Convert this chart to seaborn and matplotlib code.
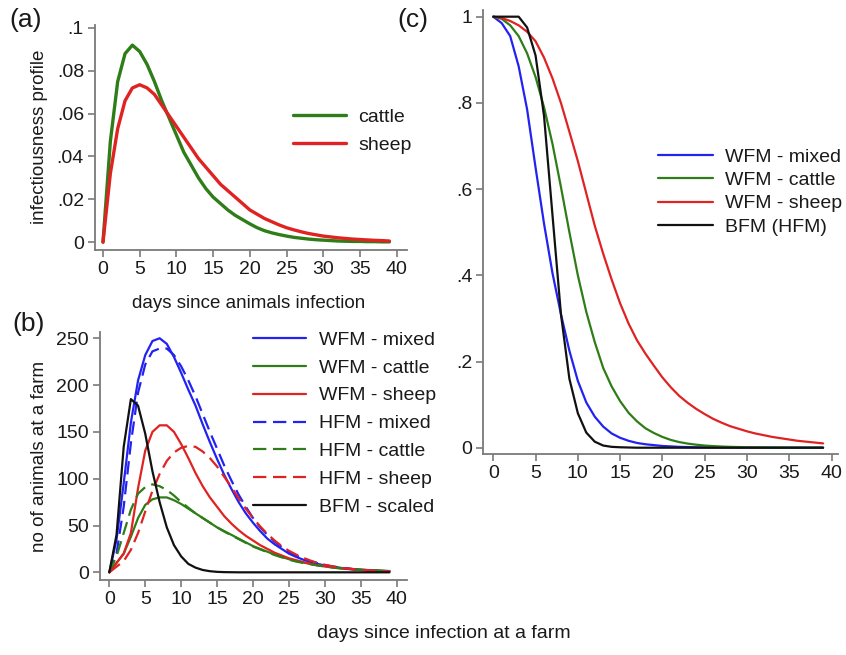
import matplotlib
matplotlib.use("Agg")
import matplotlib.pyplot as plt
import seaborn as sns

sns.set_style("white")
plt.rcParams["font.family"] = ["Liberation Sans", "DejaVu Sans"]

# ---------- data ----------
days = list(range(40))

# (a) infectiousness profile
inf_cattle = [0, .047, .075, .088, .092, .089, .083, .075, .066, .058,
              .050, .042, .036, .030, .025, .021, .018, .015, .0125, .0105,
              .0085, .0067, .0053, .0043, .0035, .0028, .0022, .0018, .0014, .0011,
              .0009, .0007, .0005, .0004, .0003, .0003, .0002, .0002, .0001, .0001]
inf_sheep = [0, .032, .053, .066, .072, .0735, .072, .069, .064, .059,
             .054, .049, .044, .039, .035, .031, .027, .024, .021, .018,
             .015, .013, .011, .0095, .008, .0067, .0057, .0048, .004, .0034,
             .0028, .0024, .002, .0017, .0014, .0012, .001, .0008, .0007, .0005]

# (b) number of infected animals at a farm
wfm_mixed = [0, 35, 95, 160, 205, 232, 247, 250, 244, 230,
             213, 195, 178, 158, 139, 121, 104, 89, 75, 63,
             53, 44, 36, 30, 25, 20, 16.5, 13.5, 11, 9,
             7.3, 6, 4.9, 4, 3.3, 2.7, 2.2, 1.8, 1.5, 1.2]
wfm_cattle = [0, 10, 20, 38, 58, 72, 78, 80, 80, 77,
              73, 68, 63, 58, 53, 48, 44, 40, 36, 32,
              28, 25, 22, 19, 16.5, 14, 12, 10.5, 9, 7.7,
              6.6, 5.6, 4.8, 4, 3.4, 2.9, 2.4, 2, 1.7, 1.4]
wfm_sheep = [0, 10, 20, 42, 90, 130, 150, 157, 157, 150,
             137, 122, 106, 92, 80, 70, 60, 52, 45, 39,
             34, 29, 25, 21, 18, 15, 13, 11, 9, 7.5,
             6.3, 5.2, 4.3, 3.6, 3, 2.5, 2, 1.7, 1.4, 1.1]
hfm_mixed = [0, 20, 70, 138, 192, 222, 236, 239, 239, 232,
             220, 205, 188, 169, 150, 132, 114, 98, 83, 70,
             58, 48, 40, 33, 27, 22, 18, 14.5, 12, 9.7,
             7.9, 6.4, 5.2, 4.2, 3.4, 2.8, 2.3, 1.8, 1.5, 1.2]
hfm_cattle = [0, 17, 42, 67, 84, 91, 94, 92, 88, 82,
              75, 69, 63, 58, 53, 48, 43.5, 39.5, 35.5, 31.5,
              27.5, 24.5, 21.5, 18.5, 16, 13.5, 11.5, 10, 8.6, 7.3,
              6.2, 5.3, 4.5, 3.8, 3.2, 2.7, 2.2, 1.9, 1.6, 1.3]
hfm_sheep = [0, 6, 12, 24, 42, 65, 87, 105, 119, 128,
             133, 135, 134, 129, 122, 113, 102, 91, 79, 68,
             58, 49, 41, 34, 28, 23, 19, 15.5, 12.5, 10,
             8, 6.5, 5.2, 4.2, 3.4, 2.7, 2.2, 1.8, 1.4, 1.1]
bfm_scaled = [0, 40, 134, 185, 178, 148, 108, 75, 48, 29,
              17, 9, 5, 2.5, 1.2, 0.5, 0.2, 0.1, 0, 0,
              0, 0, 0, 0, 0, 0, 0, 0, 0, 0,
              0, 0, 0, 0, 0, 0, 0, 0, 0, 0]

# (c) survival curves
surv_mixed = [1, .985, .955, .885, .785, .65, .52, .405, .31, .225,
              .155, .105, .072, .049, .033, .023, .016, .011, .008, .006,
              .004, .003, .002, .0015, .001, .0008, .0005, .0004, .0003, .0002,
              .0002, .0001, .0001, .0001, 0, 0, 0, 0, 0, 0]
surv_cattle = [1, .995, .98, .955, .915, .86, .79, .705, .605, .5,
               .4, .315, .245, .185, .142, .108, .081, .061, .045, .034,
               .025, .018, .013, .0095, .007, .005, .0037, .0027, .002, .0015,
               .001, .0008, .0006, .0004, .0003, .0002, .0002, .0001, .0001, .0001]
surv_sheep = [1, .997, .99, .98, .965, .943, .905, .857, .80, .733,
              .665, .59, .515, .45, .39, .335, .288, .249, .218, .19,
              .163, .14, .12, .104, .09, .078, .067, .058, .05, .044,
              .038, .033, .029, .025, .022, .019, .016, .014, .012, .01]
surv_bfm = [1, 1, 1, 1, .975, .91, .77, .54, .31, .16,
            .08, .035, .014, .005, .002, .001, .0005, 0, 0, 0,
            0, 0, 0, 0, 0, 0, 0, 0, 0, 0,
            0, 0, 0, 0, 0, 0, 0, 0, 0, 0]

x_ticks = [0, 5, 10, 15, 20, 25, 30, 35, 40]
a_yticks = [0, .02, .04, .06, .08, .1]
a_ylabels = ["0", ".02", ".04", ".06", ".08", ".1"]
b_yticks = [0, 50, 100, 150, 200, 250]
c_yticks = [0, .2, .4, .6, .8, 1]
c_ylabels = ["0", ".2", ".4", ".6", ".8", "1"]

BLUE = "#2222f2"
GREEN = "#2e7d18"
RED = "#e02222"
BLACK = "#111111"
GREY = "#7a7a7a"
TXT = "#1a1a1a"

W, H = 846, 655
fig = plt.figure(figsize=(W / 100, H / 100), dpi=100)


def px_axes(left, top, right, bottom):
    return fig.add_axes([left / W, 1 - bottom / H, (right - left) / W, (bottom - top) / H])


def style_axes(ax):
    sns.despine(ax=ax)
    for s in ("left", "bottom"):
        ax.spines[s].set_color(GREY)
        ax.spines[s].set_linewidth(1.3)
    ax.tick_params(axis="both", direction="out", length=5, width=1.2, color=GREY,
                   labelsize=14, labelcolor=TXT, left=True, bottom=True, pad=3)
    ax.set_xlabel("")
    ax.set_ylabel("")


def place_legend(ax, x, y, spacing, hlen, pad):
    ax.legend(loc="upper left", bbox_to_anchor=(x / W, 1 - y / H), bbox_transform=fig.transFigure,
              frameon=False, fontsize=14, handlelength=hlen, handletextpad=pad,
              labelspacing=spacing, borderpad=0, borderaxespad=0, labelcolor=TXT)


# ---------- (a) ----------
ax1 = px_axes(95, 25, 407, 250)
sns.lineplot(x=days, y=inf_cattle, color=GREEN, lw=2.4, label="cattle", ax=ax1)
sns.lineplot(x=days, y=inf_sheep, color=RED, lw=2.4, label="sheep", ax=ax1)
ax1.set_xlim(-1.09, 41.4)
ax1.set_ylim(-0.0037, 0.1014)
ax1.set_xticks(x_ticks)
ax1.set_yticks(a_yticks)
ax1.set_yticklabels(a_ylabels)
style_axes(ax1)
place_legend(ax1, 293, 108, 0.55, 2.7, 0.67)

# ---------- (b) ----------
ax2 = px_axes(100, 331.7, 406.7, 580)
dash = (0, (6, 3))
series_b = [
    (wfm_mixed, BLUE, "-", "WFM - mixed"),
    (wfm_cattle, GREEN, "-", "WFM - cattle"),
    (wfm_sheep, RED, "-", "WFM - sheep"),
    (hfm_mixed, BLUE, dash, "HFM - mixed"),
    (hfm_cattle, GREEN, dash, "HFM - cattle"),
    (hfm_sheep, RED, dash, "HFM - sheep"),
    (bfm_scaled, BLACK, "-", "BFM - scaled"),
]
for vals, col, ls, lab in series_b:
    sns.lineplot(x=days, y=vals, color=col, lw=1.6, linestyle=ls, label=lab, ax=ax2)
ax2.set_xlim(-1.3, 41.4)
ax2.set_ylim(-8.2, 257)
ax2.set_xticks(x_ticks)
ax2.set_yticks(b_yticks)
style_axes(ax2)
place_legend(ax2, 253, 331, 0.53, 2.7, 0.67)

# ---------- (c) ----------
ax3 = px_axes(483.3, 10, 838.3, 454)
sns.lineplot(x=days, y=surv_mixed, color=BLUE, lw=1.6, label="WFM - mixed", ax=ax3)
sns.lineplot(x=days, y=surv_cattle, color=GREEN, lw=1.6, label="WFM - cattle", ax=ax3)
sns.lineplot(x=days, y=surv_sheep, color=RED, lw=1.6, label="WFM - sheep", ax=ax3)
sns.lineplot(x=days, y=surv_bfm, color=BLACK, lw=1.6, label="BFM (HFM)", ax=ax3)
ax3.set_xlim(-1.18, 40.8)
ax3.set_ylim(-0.0146, 1.0155)
ax3.set_xticks(x_ticks)
ax3.set_yticks(c_yticks)
ax3.set_yticklabels(c_ylabels)
style_axes(ax3)
place_legend(ax3, 658, 148, 0.3, 2.85, 0.62)

# ---------- labels ----------
fig.text(40 / W, 1 - 137 / H, "infectiousness profile", rotation=90, ha="center", va="center",
         fontsize=13.5, color=TXT)
fig.text(249 / W, 1 - 303 / H, "days since animals infection", ha="center", va="center",
         fontsize=13.5, color=TXT)
fig.text(40 / W, 1 - 456 / H, "no of animals at a farm", rotation=90, ha="center", va="center",
         fontsize=13.5, color=TXT)
fig.text(444 / W, 1 - 633 / H, "days since infection at a farm", ha="center", va="center",
         fontsize=14, color=TXT)
fig.text(9 / W, 1 - 20 / H, "(a)", ha="left", va="center", fontsize=19, color=TXT)
fig.text(12 / W, 1 - 324 / H, "(b)", ha="left", va="center", fontsize=19, color=TXT)
fig.text(397 / W, 1 - 20 / H, "(c)", ha="left", va="center", fontsize=19, color=TXT)

fig.savefig("out.png", dpi=100, facecolor="white")
